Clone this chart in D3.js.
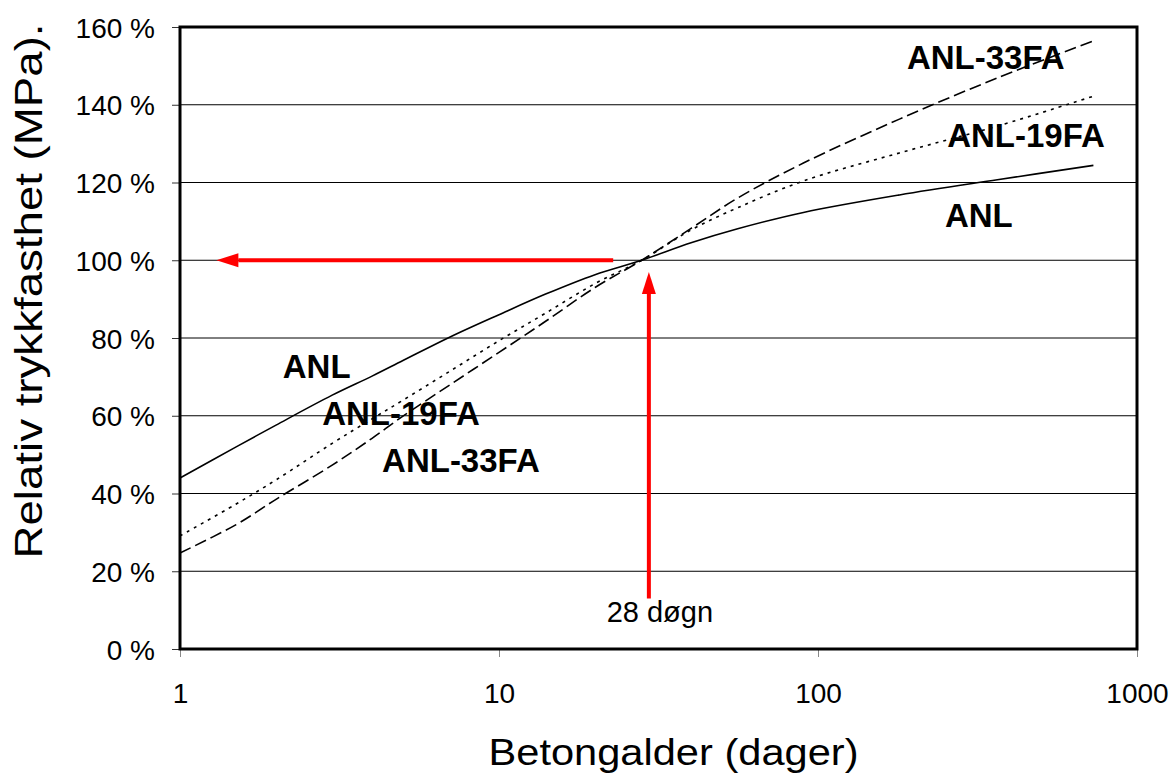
<!DOCTYPE html>
<html>
<head>
<meta charset="utf-8">
<script src="https://cdn.jsdelivr.net/npm/d3@7"></script>
<style>
  body { margin: 0; background: #fff; }
  svg { display: block; font-family: "Liberation Sans", Arial, sans-serif; }
</style>
</head>
<body>
<div id="chart"></div>
<script>
// Concrete age (days) and relative compressive strength (% of 28-day value)
const days = [1, 1.5, 2, 3, 4, 5, 7, 10, 14, 20, 28, 40, 56, 90, 180, 365, 730];
const anl = [44, 52, 57.6, 65.3, 70.2, 74.2, 80.2, 86, 91.3, 96.3, 100, 104.5, 108.1, 112.3, 116.8, 120.7, 124.4];
const anl19fa = [29.1, 37.3, 43.5, 52.9, 59.2, 64, 71.4, 79.3, 86.4, 94, 100, 107.8, 113.5, 120.4, 127.6, 134.5, 142.2];
const anl33fa = [24.7, 32, 38.5, 47.3, 54.2, 59.9, 67.9, 76.3, 84.3, 93, 100, 108.2, 116, 125, 136.3, 146.9, 156.4];

const xTicks = [1, 10, 100, 1000];
const yTicks = [0, 20, 40, 60, 80, 100, 120, 140, 160];

const seriesNames = ["ANL", "ANL-19FA", "ANL-33FA"];
const seriesValues = [anl, anl19fa, anl33fa];
const seriesDash = [null, "3,5", "12,5"];

// Series labels (left-aligned), placed in data units
const labelText = ["ANL-33FA", "ANL-19FA", "ANL", "ANL", "ANL-19FA", "ANL-33FA"];
const labelDay = [190, 254, 250, 2.1, 2.79, 4.3];
const labelPct = [149.2, 129.1, 108.5, 69.8, 57.5, 45.6];

const width = 1175;
const height = 774;
const plot = { left: 180, right: 1137, top: 27, bottom: 649 };

const svg = d3.select("#chart")
    .append("svg")
    .attr("width", width)
    .attr("height", height);

const x = d3.scaleLog()
    .domain([1, 1000])
    .range([plot.left, plot.right]);

const y = d3.scaleLinear()
    .domain([0, 160])
    .range([plot.bottom, plot.top]);

// Gridlines
svg.append("g")
    .selectAll("line")
    .data(yTicks.filter(d => d > 0 && d < 160))
    .enter()
    .append("line")
    .attr("x1", plot.left)
    .attr("x2", plot.right)
    .attr("y1", d => y(d))
    .attr("y2", d => y(d))
    .style("stroke", "#000")
    .style("stroke-width", 1);

// Y axis ticks + labels
const yAxis = svg.append("g")
    .attr("transform", `translate(${plot.left},0)`)
    .call(d3.axisLeft(y).tickValues(yTicks).tickSize(8).tickPadding(17).tickFormat(d => d + " %"));
yAxis.select(".domain").remove();
yAxis.selectAll(".tick line").style("stroke", "#333");
yAxis.selectAll("text")
    .style("font-size", "28px")
    .style("fill", "#000")
    .attr("dy", "0.36em");

// X axis ticks + labels
const xAxis = svg.append("g")
    .attr("transform", `translate(0,${plot.bottom})`)
    .call(d3.axisBottom(x).tickValues(xTicks).tickSize(8).tickPadding(26).tickFormat(d3.format("d")));
xAxis.select(".domain").remove();
xAxis.selectAll(".tick line").style("stroke", "#888");
xAxis.selectAll("text")
    .style("font-size", "28px")
    .style("fill", "#000");

// Curves
const line = d3.line()
    .x((d, i) => x(days[i]))
    .y(d => y(d))
    .curve(d3.curveCatmullRom.alpha(0.5));

seriesValues.forEach((vals, k) => {
    svg.append("path")
        .datum(vals)
        .attr("class", "series " + seriesNames[k])
        .attr("d", line)
        .style("fill", "none")
        .style("stroke", "#000")
        .style("stroke-width", 1.6)
        .style("stroke-dasharray", seriesDash[k]);
});

// Plot frame
svg.append("rect")
    .attr("x", plot.left)
    .attr("y", plot.top)
    .attr("width", plot.right - plot.left)
    .attr("height", plot.bottom - plot.top)
    .style("fill", "none")
    .style("stroke", "#000")
    .style("stroke-width", 3);

// Series labels
svg.append("g")
    .selectAll("text")
    .data(labelText)
    .enter()
    .append("text")
    .attr("x", (d, i) => x(labelDay[i]))
    .attr("y", (d, i) => y(labelPct[i]))
    .style("font-size", "33px")
    .style("font-weight", "bold")
    .style("fill", "#000")
    .text(d => d);

// Red arrows: 28-day reference
function arrow(x1, y1, x2, y2) {
    const head = 22, half = 7;
    const ang = Math.atan2(y2 - y1, x2 - x1);
    const bx = x2 - head * Math.cos(ang), by = y2 - head * Math.sin(ang);
    svg.append("line")
        .attr("x1", x1).attr("y1", y1)
        .attr("x2", bx).attr("y2", by)
        .style("stroke", "#ff0000")
        .style("stroke-width", 4);
    const px = -Math.sin(ang) * half, py = Math.cos(ang) * half;
    svg.append("path")
        .attr("d", `M${x2},${y2}L${bx + px},${by + py}L${bx - px},${by - py}Z`)
        .style("fill", "#ff0000");
}

const arrowDay = 29.5;
arrow(x(22.8), y(100), x(1.3), y(100));
arrow(x(arrowDay), y(13), x(arrowDay), y(97));

svg.append("text")
    .attr("x", x(arrowDay) + 11)
    .attr("y", 622)
    .attr("text-anchor", "middle")
    .style("font-size", "29px")
    .style("fill", "#000")
    .text("28 døgn");

// Axis titles
svg.append("text")
    .attr("x", (plot.left + plot.right) / 2 + 15)
    .attr("y", 765)
    .attr("text-anchor", "middle")
    .attr("textLength", 370)
    .attr("lengthAdjust", "spacingAndGlyphs")
    .style("font-size", "37px")
    .style("fill", "#000")
    .text("Betongalder (dager)");

svg.append("text")
    .attr("transform", "translate(42,291) rotate(-90)")
    .attr("text-anchor", "middle")
    .attr("textLength", 535)
    .attr("lengthAdjust", "spacingAndGlyphs")
    .style("font-size", "39px")
    .style("fill", "#000")
    .text("Relativ trykkfasthet (MPa).");
</script>
</body>
</html>
